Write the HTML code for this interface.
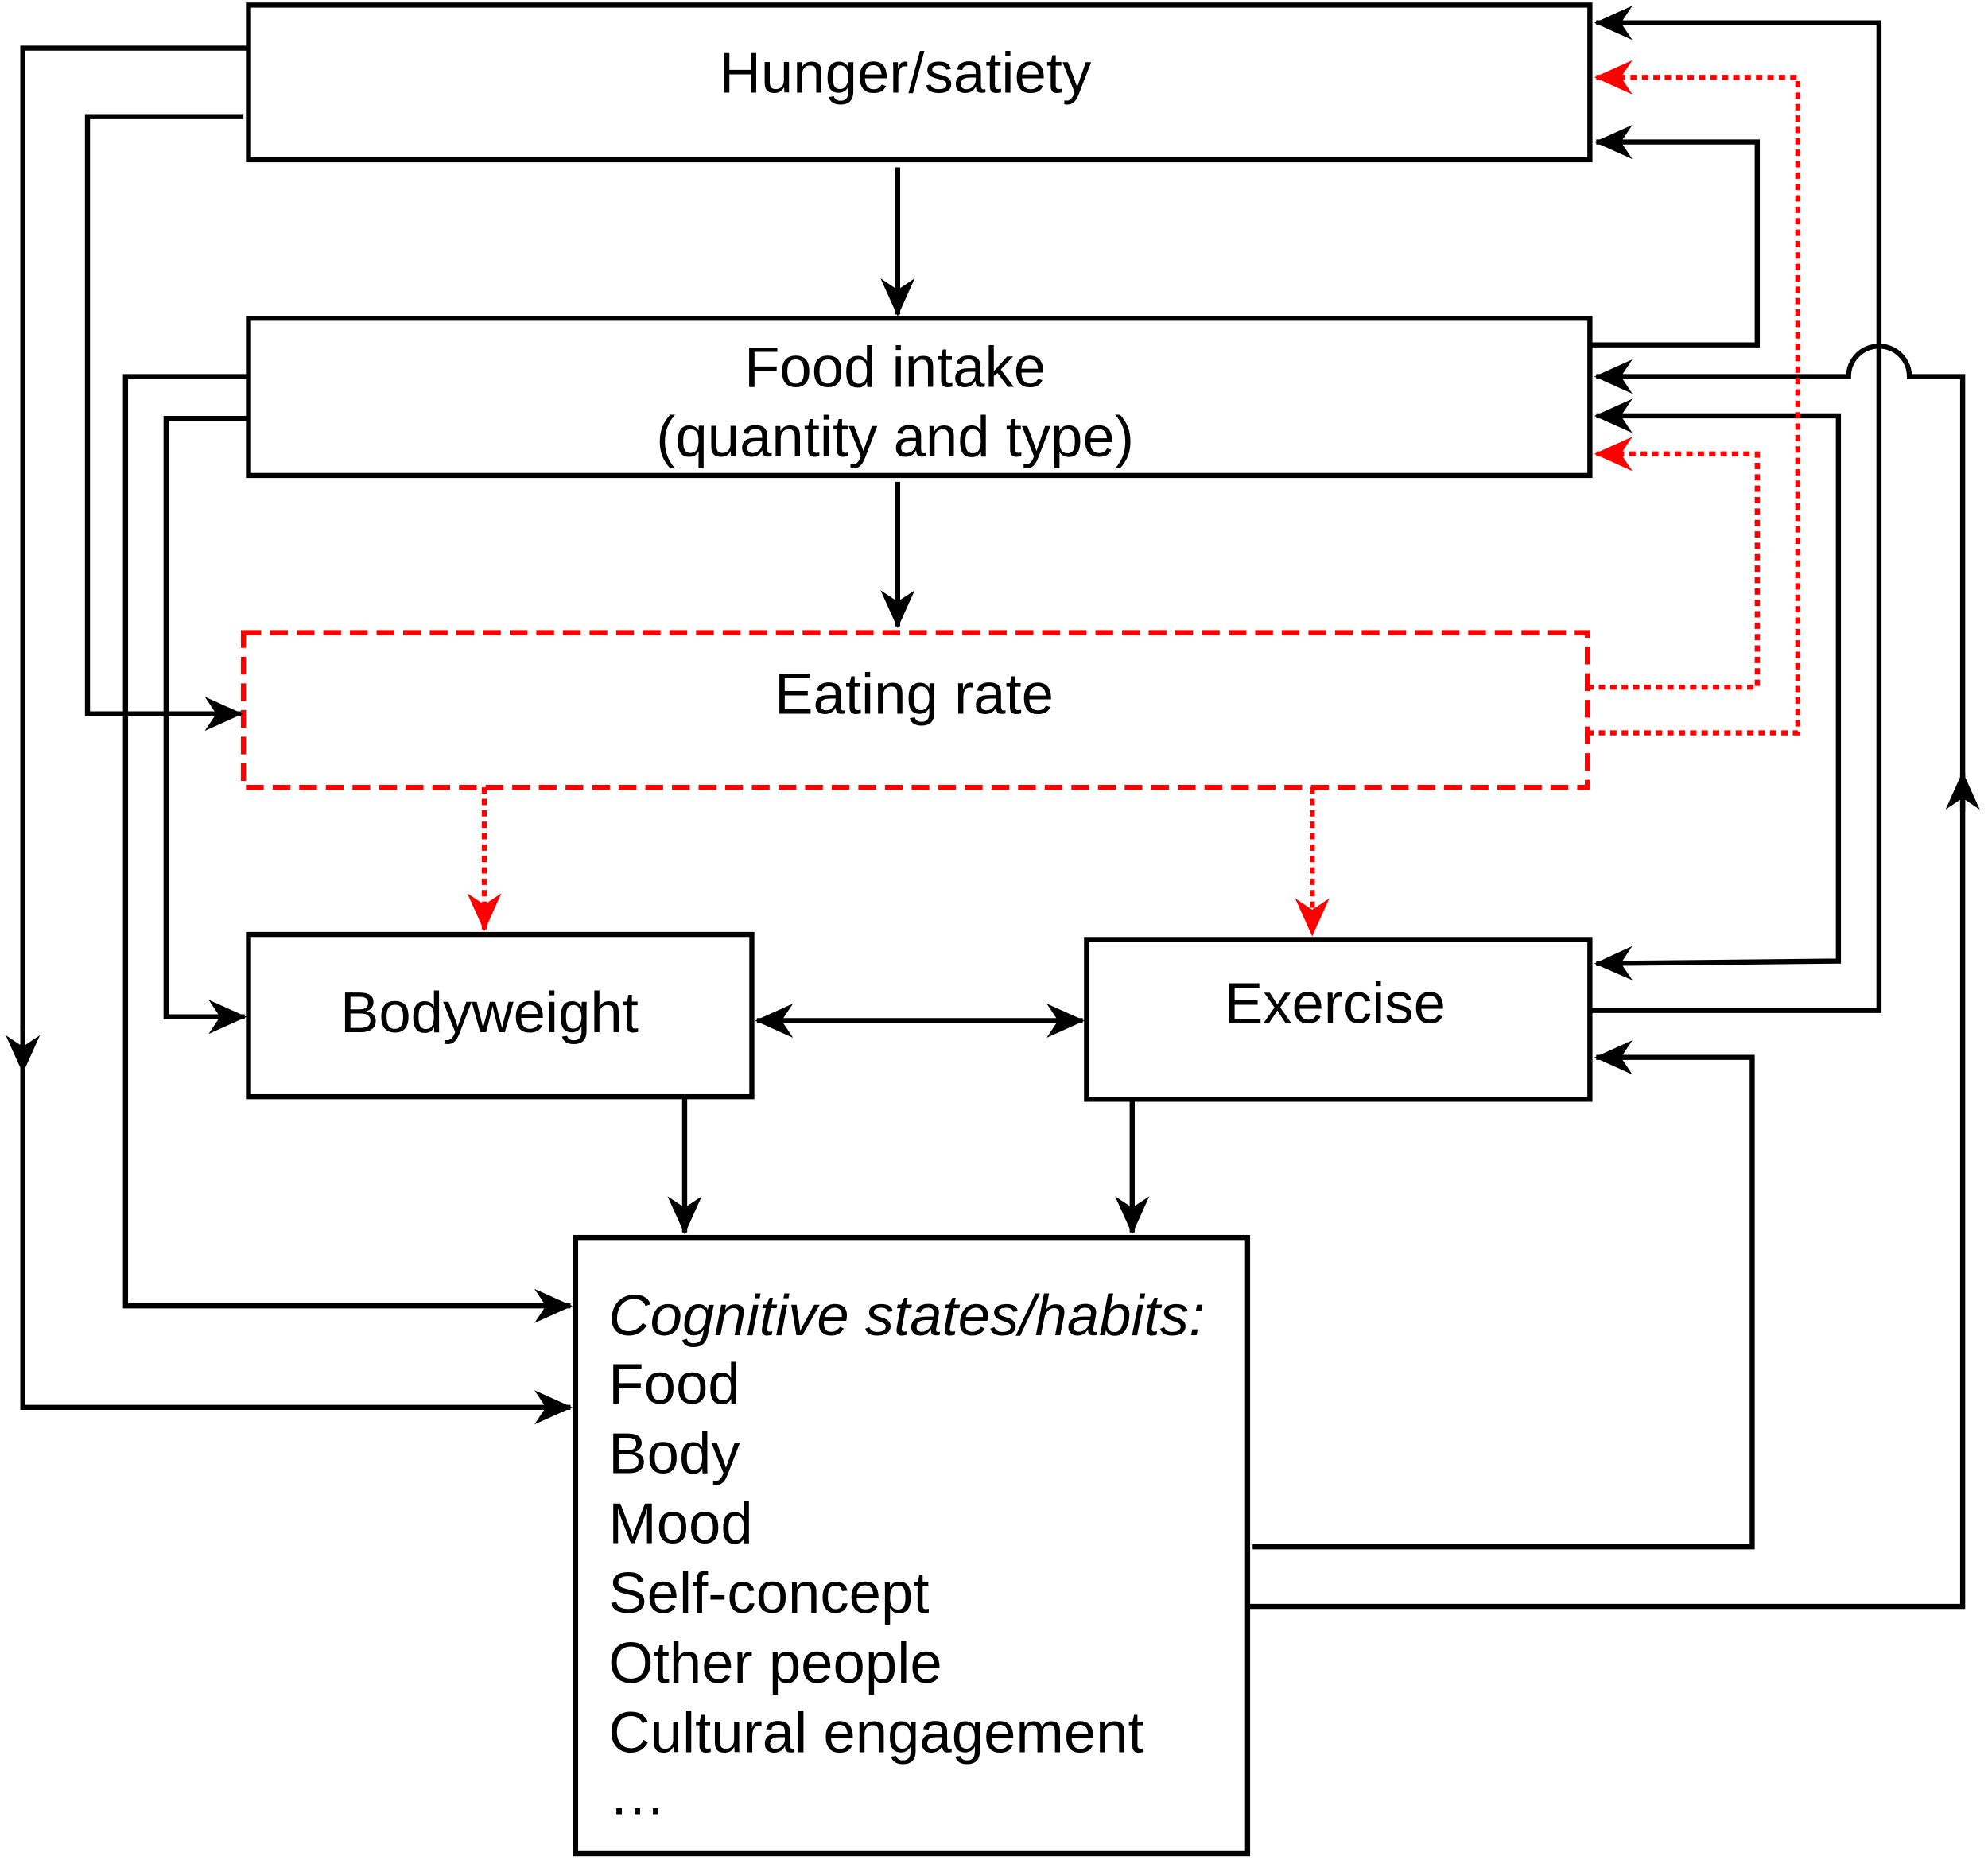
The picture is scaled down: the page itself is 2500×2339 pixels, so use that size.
<!DOCTYPE html>
<html><head><meta charset="utf-8"><style>html,body{margin:0;padding:0;background:#fff}svg{display:block}</style></head><body>
<svg width="2500" height="2339" viewBox="0 0 1568 1467" xmlns="http://www.w3.org/2000/svg" font-family="Liberation Sans, Arial, sans-serif">
<defs>
<marker id="a" viewBox="0 0 20 20" refX="19" refY="10" markerWidth="30" markerHeight="30" markerUnits="userSpaceOnUse" orient="auto-start-reverse"><path d="M0,1 L20,10 L0,19 L6,10 Z" fill="#000"/></marker>
<marker id="r" viewBox="0 0 20 20" refX="19" refY="10" markerWidth="30" markerHeight="30" markerUnits="userSpaceOnUse" orient="auto-start-reverse"><path d="M0,1 L20,10 L0,19 L6,10 Z" fill="#f00"/></marker>
</defs>
<g fill="none" stroke="#000" stroke-width="4">
<rect x="196" y="4" width="1058" height="122"/>
<rect x="196" y="251" width="1058" height="124"/>
<rect x="196" y="737" width="397" height="128"/>
<rect x="857" y="741" width="397" height="126"/>
<rect x="454" y="976" width="530" height="486"/>
</g>
<rect x="192" y="499" width="1060" height="122" fill="none" stroke="#f00" stroke-width="4" stroke-dasharray="14,7"/>
<g fill="none" stroke="#000" stroke-width="4">
<path d="M708,132 V248" marker-end="url(#a)"/>
<path d="M708,380 V494" marker-end="url(#a)"/>
<path d="M597,805 H854" marker-start="url(#a)" marker-end="url(#a)"/>
<path d="M540,865 V972" marker-end="url(#a)"/>
<path d="M893,867 V972" marker-end="url(#a)"/>
<path d="M196,38 H18 V1110 H450" marker-end="url(#a)"/>
<path d="M18,810 V845" marker-end="url(#a)"/>
<path d="M192,92 H69 V563 H190" marker-end="url(#a)"/>
<path d="M196,297 H99 V1030 H450" marker-end="url(#a)"/>
<path d="M196,330 H131 V802 H193" marker-end="url(#a)"/>
<path d="M1254,797 H1482 V18 H1259" marker-end="url(#a)"/>
<path d="M1254,272 H1386 V112 H1259" marker-end="url(#a)"/>
<path d="M984,1267 H1548 V297 H1506 A24,24 0 0 0 1458,297 H1259" marker-end="url(#a)"/>
<path d="M1548,640 V610" marker-end="url(#a)"/>
<path d="M988,1220 H1382 V834 H1259" marker-end="url(#a)"/>
<path d="M1259,760 L1450,758 V328 H1259" marker-start="url(#a)" marker-end="url(#a)"/>
</g>
<g fill="none" stroke="#f00" stroke-width="4" stroke-dasharray="5,4">
<path d="M382,621 V733" marker-end="url(#r)"/>
<path d="M1035,621 V737" marker-end="url(#r)"/>
<path d="M1252,578 H1418 V61 H1259" marker-end="url(#r)"/>
<path d="M1252,542 H1386 V358 H1259" marker-end="url(#r)"/>
</g>
<g font-size="45.5" fill="#000" text-anchor="middle">
<text x="714" y="73">Hunger/satiety</text>
<text x="706" y="305">Food intake</text>
<text x="706" y="360">(quantity and type)</text>
<text x="721" y="563">Eating rate</text>
<text x="386" y="814">Bodyweight</text>
<text x="1053" y="807">Exercise</text>
</g>
<g font-size="45.5" fill="#000">
<text x="480" y="1053" font-style="italic">Cognitive states/habits:</text>
<text x="480" y="1107">Food</text>
<text x="480" y="1162">Body</text>
<text x="480" y="1217">Mood</text>
<text x="480" y="1272">Self-concept</text>
<text x="480" y="1327">Other people</text>
<text x="480" y="1382">Cultural engagement</text>
<text x="480" y="1431">…</text>
</g>
</svg>
</body></html>
